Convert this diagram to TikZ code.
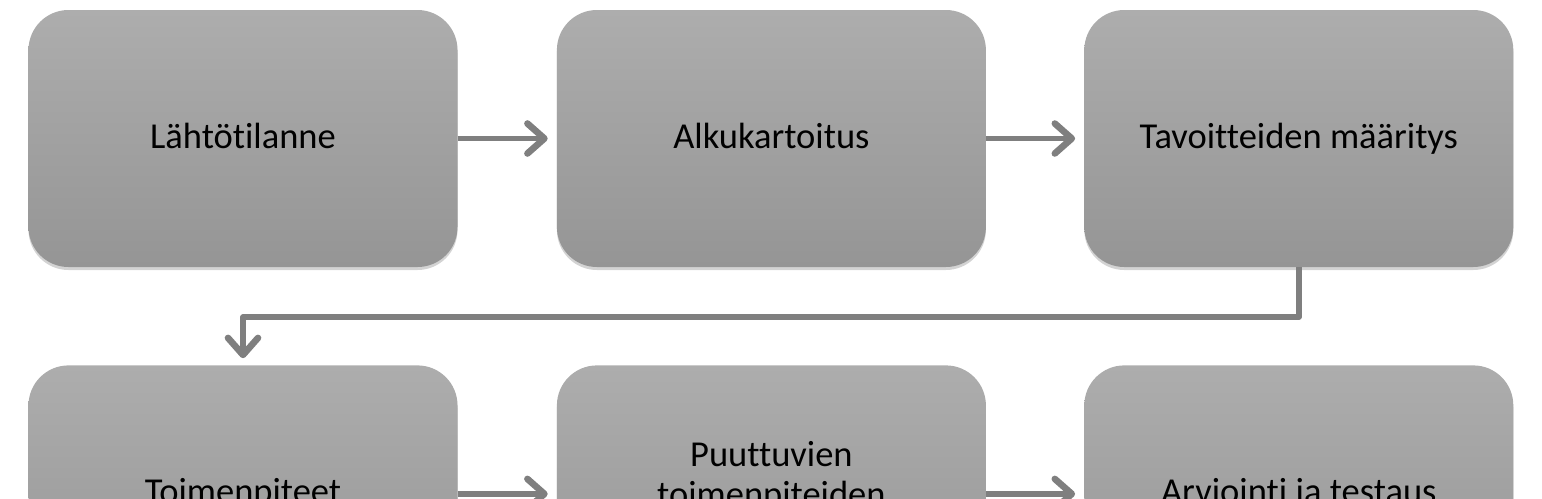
\documentclass[tikz,border=0pt]{standalone}
\usepackage{fontspec}
\setmainfont{Carlito}[Ligatures=NoCommon]
\usetikzlibrary{positioning,arrows.meta,shadows}

\definecolor{boxtop}{HTML}{ADADAD}
\definecolor{boxbottom}{HTML}{959595}
\definecolor{arrowgray}{HTML}{7F7F7F}

\begin{document}
\begin{tikzpicture}[
        node distance=99pt,
        vaihe/.style={rectangle, rounded corners=40pt, minimum width=429pt, minimum height=257pt,
            align=center, top color=boxtop, bottom color=boxbottom,
            drop shadow={shadow xshift=0pt, shadow yshift=-3pt, opacity=0.35},
            font=\fontsize{36.5}{40}\selectfont},
        yksirivi/.style={text height=27pt, text depth=8pt},
        nuoli/.style={draw=arrowgray, line width=5.5pt, line join=round,
            -{Straight Barb[length=17pt, width=30pt, line width=0pt 1.2, round]}, shorten >=9pt}
    ]
        \useasboundingbox (0,0) rectangle (1542pt,-498pt);
        \clip (0,0) rectangle (1542pt,-498pt);

        % Ylarivi
        \node[vaihe, yksirivi] (lahto) at (243pt,-138.5pt) {Lähtötilanne};
        \node[vaihe, yksirivi, right=99pt of lahto] (alku) {Alkukartoitus};
        \node[vaihe, yksirivi, right=98pt of alku] (tavoite) {Tavoitteiden määritys};

        % Alarivi
        \node[vaihe, yksirivi, below=98pt of lahto] (toimet) {Toimenpiteet};
        \node[vaihe, below=98pt of alku] (puuttuvat) {Puuttuvien\\toimenpiteiden\\\phantom{x}};
        \node[vaihe, yksirivi, below=98pt of tavoite] (arviointi) {Arviointi ja testaus};

        % Nuolet
        \draw[nuoli] (lahto) -- (alku);
        \draw[nuoli] (alku) -- (tavoite);
        \draw[nuoli, shorten >=7pt] (tavoite.south) -- ++(0,-50pt) -| (toimet.north);
        \draw[nuoli] (toimet) -- (puuttuvat);
        \draw[nuoli] (puuttuvat) -- (arviointi);

    \end{tikzpicture}
\end{document}
